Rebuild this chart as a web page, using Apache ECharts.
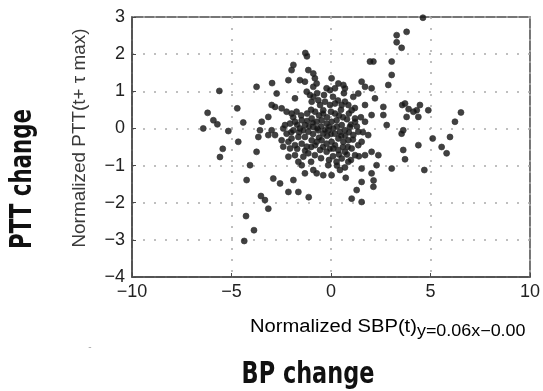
<!DOCTYPE html>
<html><head><meta charset="utf-8">
<script src="https://cdn.jsdelivr.net/npm/echarts/dist/echarts.min.js"></script>
<style>html,body{margin:0;padding:0;background:#fff}#c{width:543px;height:391px}</style>
</head><body><div id="c"></div>
<script>
// Tick values
const xTicks = [-10, -5, 0, 5, 10];
const yTicks = [-4, -3, -2, -1, 0, 1, 2, 3];

// Axis titles / labels
const yAxisTitle = 'Normalized PTT(t+ \u03c4 max)';
const xAxisTitle = 'Normalized SBP(t)';
const fitText = 'y=0.06x\u22120.00';
const outerYLabel = 'PTT change';
const outerXLabel = 'BP change';

// Scatter points: [normalized SBP(t), normalized PTT(t+tau max)]
const outerPoints = [
  [-6.42,0.00],[-6.20,0.42],[-5.91,0.22],[-5.71,0.11],[-5.61,1.01],[-5.44,-0.55],[-5.58,-0.77],[-5.16,-0.07],
  [-4.71,0.54],[-4.66,-0.36],[-4.41,0.16],[-4.07,-0.99],[-4.24,-1.39],[-4.27,-2.36],[-4.36,-3.03],[-3.87,-2.74],
  [-3.52,-1.82],[-3.32,-1.93],[-3.15,-2.16],[-1.29,2.03],[-1.21,1.94],[-2.96,1.22],[-1.12,-1.85],[1.04,-1.89],
  [1.54,-1.98],[1.29,-1.66],[2.14,-1.40],[0.74,-1.33],
  [3.72,0.67],[3.58,0.63],[4.47,0.63],[4.14,0.45],[4.31,0.49],[3.80,0.31],[4.39,0.31],[4.89,0.49],[3.63,-0.05],
  [3.55,-0.14],[4.39,-0.45],[3.63,-0.58],[3.72,-0.83],[4.69,-1.12],[3.90,0.52],
  [5.11,-0.27],[5.56,-0.50],[5.81,-0.67],[5.98,-0.23],[6.23,0.18],[6.53,0.43],
  [3.80,2.60],[3.30,2.51],[3.30,2.32],[3.55,2.17],[4.62,2.98]
];
const innerPoints = [
  [-1.89,1.71],[-1.98,1.57],[-1.14,1.57],[-0.89,1.48],[-0.81,1.35],[-2.14,1.30],[-1.56,1.30],[-1.31,1.26],[-0.72,1.21],[-0.89,1.12],
  [0.03,1.35],[0.37,1.21],[0.62,1.17],[0.70,1.08],[-0.22,1.08],[-0.05,1.03],[0.20,1.08],[1.37,0.94],[1.12,0.85],[1.54,1.26],
  [1.71,1.12],[2.04,1.08],[1.96,1.80],[2.13,1.80],[3.05,1.80],[3.05,1.44],[2.88,1.17],[-3.74,1.12],[-2.73,0.94],[-1.81,0.81],
  [-1.22,0.99],[-1.06,0.90],[-0.89,0.85],[-0.64,0.76],[-0.97,0.72],[-0.55,0.63],[-0.39,0.49],[-0.30,0.72],[-0.05,0.63],[0.20,0.67],
  [0.54,0.63],[0.70,0.72],[0.87,0.63],[1.04,0.49],[1.71,0.63],[2.21,0.81],[2.04,0.36],[2.63,0.58],[2.63,0.36],[2.80,0.09],
  [1.71,0.18],[1.21,0.27],[1.21,0.18],[-2.98,0.63],[-2.81,0.58],[-2.48,0.54],[-2.23,0.45],[-1.98,0.40],[-1.73,0.45],[-3.15,0.31],
  [-3.48,0.18],[-3.57,-0.05],[-2.31,0.09],[-2.06,0.13],[-1.81,0.18],[-1.47,0.22],[-1.31,0.09],[-1.56,0.00],[-1.89,-0.05],[-2.23,-0.14],
  [-2.40,0.00],[-0.97,0.27],[-0.72,0.18],[-0.47,0.22],[-0.22,0.13],[0.03,0.18],[0.28,0.22],[0.54,0.09],[0.70,-0.05],[0.45,-0.09],
  [0.20,-0.14],[-0.14,-0.05],[-0.39,-0.14],[-0.64,-0.05],[-0.89,0.04],[-1.14,-0.09],[-1.31,-0.23],[-1.64,-0.23],[-1.98,-0.27],[-2.14,-0.36],
  [-2.48,-0.32],[-2.81,-0.18],[-3.15,-0.18],[-2.98,-0.05],[-3.65,-0.23],[-3.74,-0.63],[-2.40,-0.49],[-2.06,-0.54],[-1.81,-0.45],[-1.47,-0.41],
  [-1.22,-0.49],[-0.97,-0.32],[-0.72,-0.36],[-0.47,-0.32],[-0.22,-0.41],[0.03,-0.36],[0.37,-0.27],[0.62,-0.36],[0.87,-0.32],[1.12,-0.18],
  [1.37,-0.09],[0.95,0.04],[1.54,-0.36],[1.87,-0.18],[1.37,-0.45],[1.04,-0.54],[0.70,-0.63],[0.37,-0.58],[0.12,-0.54],[-0.22,-0.63],
  [-0.55,-0.58],[-0.81,-0.72],[-1.14,-0.67],[-1.39,-0.76],[-1.64,-0.90],[-1.81,-0.72],[-2.14,-0.76],[-1.47,-0.99],[-1.31,-1.21],[-0.89,-1.12],
  [-0.72,-1.21],[-0.39,-1.26],[-0.14,-0.99],[0.28,-0.90],[0.54,-0.81],[0.87,-0.90],[1.21,-0.72],[1.71,-0.72],[2.04,-0.63],[2.38,-0.72],
  [2.29,-0.99],[2.04,-1.21],[1.54,-1.08],[1.54,-1.44],[0.45,-1.12],[0.03,-1.26],[-1.89,-1.39],[-2.56,-1.48],[-2.90,-1.35],[3.05,-1.08],
  [2.13,-1.57],[-1.64,-1.71],[-2.14,-1.71]
];
const densePoints = [
  [-1.7,0.1],[-1.5,0.35],[-1.2,0.4],[-1.0,0.5],[-0.8,0.45],[-0.6,0.35],[-0.4,0.4],[-0.2,0.3],[0.0,0.45],[0.2,0.4],
  [0.4,0.35],[0.6,0.3],[0.8,0.25],[1.0,0.1],[-1.6,-0.1],[-1.4,-0.05],[-1.1,0.05],[-0.9,-0.15],[-0.7,0.0],[-0.5,0.05],
  [-0.3,-0.05],[-0.1,0.05],[0.1,0.0],[0.3,0.05],[0.5,-0.2],[0.7,-0.2],[0.9,-0.1],[1.1,-0.3],[1.3,0.05],[-1.7,-0.55],
  [-1.3,-0.6],[-1.0,-0.5],[-0.8,-0.45],[-0.6,-0.25],[-0.4,-0.5],[-0.2,-0.2],[0.0,-0.15],[0.2,-0.45],[0.4,-0.7],[0.6,-0.5],
  [0.8,-0.7],[1.0,-0.85],[0.3,-1.0],[0.1,-0.75],[-0.1,-0.85],[-0.5,-0.8],[-1.0,-0.9],[-1.2,0.2],[-0.9,0.15],[0.5,0.5],
  [0.9,0.4],[1.2,0.55],[1.5,0.3],[1.6,-0.1],[-2.0,-0.1],[-1.9,0.3],[-0.35,0.9],[0.1,0.85],[0.35,0.75],[0.65,0.95],
  [-0.7,0.95],[1.4,-0.75],[0.7,-1.05],[0.85,-0.5],[-0.05,-0.55]
];

const chart = echarts.init(document.getElementById('c'), null, {renderer: 'canvas'});
const minus = v => String(v).replace('-', '\u2212');
const tickFont = {fontFamily: "'Liberation Sans', Arial, sans-serif", fontSize: 18, color: '#222'};
const axisCommon = {
  axisLine: {show: true, onZero: false, lineStyle: {color: '#4a4a4a', width: 1.5}},
  axisTick: {show: true, inside: true, length: 4, lineStyle: {color: '#4a4a4a'}},
  splitLine: {show: true, lineStyle: {color: '#aaa', type: [2, 9], width: 1.5}}
};

chart.setOption({
  backgroundColor: '#fff',
  animation: false,
  grid: {left: 132, right: 13, top: 17, bottom: 114, show: true, borderColor: '#4a4a4a', borderWidth: 1.5, backgroundColor: 'transparent'},
  xAxis: Object.assign({
    type: 'value', min: xTicks[0], max: xTicks[xTicks.length - 1], interval: xTicks[1] - xTicks[0],
    axisLabel: Object.assign({margin: 6, formatter: minus}, tickFont)
  }, axisCommon),
  yAxis: Object.assign({
    type: 'value', min: yTicks[0], max: yTicks[yTicks.length - 1], interval: yTicks[1] - yTicks[0],
    axisLabel: Object.assign({margin: 7, formatter: minus}, tickFont)
  }, axisCommon),
  series: [{
    type: 'scatter',
    symbol: 'circle',
    symbolSize: 6,
    itemStyle: {color: '#111', borderColor: '#333', borderWidth: 0.8},
    data: outerPoints.concat(innerPoints, densePoints)
  }],
  graphic: [
    {type: 'text', x: 80, y: 138, rotation: Math.PI / 2, scaleX: 1.05,
     style: {text: yAxisTitle, fill: '#3a3a3a', font: "18px 'Liberation Sans', Arial, sans-serif", textAlign: 'center', textVerticalAlign: 'middle'}},
    {type: 'text', x: 250, y: 327, scaleX: 1.12,
     style: {text: '{a|' + xAxisTitle + '}{b|' + fitText + '}', textVerticalAlign: 'middle',
       rich: {
         a: {fontFamily: "'Liberation Sans', Arial, sans-serif", fontSize: 18, color: '#3a3a3a'},
         b: {fontFamily: "'Liberation Sans', Arial, sans-serif", fontSize: 16, color: '#3a3a3a', padding: [10, 0, 0, 0]}
       }}},
    {type: 'text', x: 23, y: 179, rotation: Math.PI / 2, scaleX: 0.79,
     style: {text: outerYLabel, fill: '#111', font: "bold 30px 'DejaVu Sans Condensed', 'DejaVu Sans', sans-serif", textAlign: 'center', textVerticalAlign: 'middle'}},
    {type: 'text', x: 308, y: 375, scaleX: 0.83,
     style: {text: outerXLabel, fill: '#111', font: "bold 30px 'DejaVu Sans Condensed', 'DejaVu Sans', sans-serif", textAlign: 'center', textVerticalAlign: 'middle'}},
    {type: 'text', x: 90, y: 347,
     style: {text: '-', fill: '#aaa', font: "10px sans-serif", textAlign: 'center', textVerticalAlign: 'middle'}}
  ]
});
</script>
</body></html>
